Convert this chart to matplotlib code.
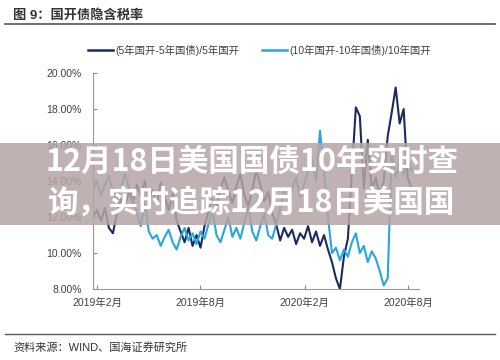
import pandas as pd
import matplotlib
matplotlib.use("Agg")
import matplotlib.pyplot as plt
from matplotlib.patches import Rectangle
from matplotlib.lines import Line2D

plt.rcParams['font.family'] = ['Liberation Sans', 'Noto Sans CJK SC', 'DejaVu Sans']

# weekly series
dates = pd.date_range('2019-01-25', periods=81, freq='7D')

rate_10y = [13.5, 14.0, 13.2, 13.8, 14.3, 13.4, 12.9, 13.6, 14.4, 13.7, 13.0,
            12.2, 11.5, 12.8, 11.2, 10.8,
            11.0, 10.4, 10.9, 11.3, 10.6, 10.2, 10.9, 11.4, 10.7, 11.1,
            10.5, 11.2, 10.8, 11.6, 12.4, 11.0, 10.6, 11.3, 12.0, 10.9,
            11.4, 10.8, 11.7, 12.6, 11.2, 10.7, 11.5, 12.2, 11.0, 10.8,
            11.6, 12.5, 13.4, 12.8, 13.6, 14.2, 13.1, 13.8, 14.5, 15.2, 14.0,
            16.8, 14.5, 12.0,
            10.0, 10.3, 9.6, 10.2, 9.8, 10.6, 11.1, 10.0, 10.4, 9.5, 10.1, 9.7,
            9.0, 8.2, 8.6, 15.5, 14.2, 15.0, 14.4, 15.3, 14.6]

rate_5y = [12.0, 12.4, 11.8, 12.5, 11.4, 11.1, 12.2, 13.0, 12.6, 13.4, 12.8,
           13.8, 13.2, 14.0, 12.9, 13.5, 12.7, 13.9, 13.1, 12.4, 13.3, 11.8,
           11.2, 10.6, 11.4, 10.4, 11.0, 10.3, 11.5, 12.3,
           13.0, 12.5, 13.6, 14.2, 13.4, 12.8, 13.7, 14.4, 13.2, 12.6, 13.5,
           14.6, 13.8, 12.9, 13.4, 12.2,
           11.6, 10.7, 11.4, 10.9, 11.3, 10.5, 11.1, 10.8, 11.5, 10.6, 11.2,
           10.4, 11.0, 10.2, 9.5, 8.6, 8.0, 9.8,
           10.8, 14.5, 18.1, 17.6, 13.6, 16.3, 13.5, 14.2, 13.2, 14.0, 16.5,
           17.8, 19.2, 17.2, 18.0, 14.2, 13.6]

label_5y = '(5年国开-5年国债)/5年国开'
label_10y = '(10年国开-10年国债)/10年国开'
navy = '#1c2b5e'
cyan = '#27a6df'

fig = plt.figure(figsize=(5, 3.6), dpi=100)
ax = fig.add_axes([0.186, 0.197, 0.652, 0.6])

ax.plot(dates, rate_5y, color=navy, lw=1.5)
ax.plot(dates, rate_10y, color=cyan, lw=1.5)

ax.set_ylim(8, 20)
ax.set_yticks([8, 10, 12, 14, 16, 18, 20])
ax.set_yticklabels(['%.2f%%' % v for v in [8, 10, 12, 14, 16, 18, 20]])
ax.set_xlim(pd.Timestamp('2019-01-25'), pd.Timestamp('2020-08-20'))
ticks = pd.to_datetime(['2019-02-01', '2019-08-01', '2020-02-01', '2020-08-01'])
ax.set_xticks(ticks)
ax.set_xticklabels(['2019年2月', '2019年8月', '2020年2月', '2020年8月'])
ax.tick_params(direction='in', length=3, color='#888888', labelsize=7.5,
               labelcolor='#404040')
ax.tick_params(axis='x', pad=6)
ax.tick_params(axis='y', pad=8)
for s in ['top', 'right']:
    ax.spines[s].set_visible(False)
for s in ['left', 'bottom']:
    ax.spines[s].set_color('#999999')

# legend
fig.lines.append(Line2D([0.176, 0.226], [0.861, 0.861], color=navy, lw=1.8,
                        transform=fig.transFigure))
fig.text(0.23, 0.861, label_5y, fontsize=7.5, color='#404040', va='center')
fig.lines.append(Line2D([0.524, 0.574], [0.861, 0.861], color=cyan, lw=1.8,
                        transform=fig.transFigure))
fig.text(0.578, 0.861, label_10y, fontsize=7.5, color='#404040', va='center')

# header and footer
fig.text(0.026, 0.958, '图 9：国开债隐含税率', fontsize=9.5, fontweight='bold',
         color='#333333', va='center')
fig.lines.append(Line2D([0.01, 0.99], [0.933, 0.933], color='#555555', lw=1.2,
                        transform=fig.transFigure))
fig.lines.append(Line2D([0.01, 0.99], [0.072, 0.072], color='#555555', lw=1.0,
                        transform=fig.transFigure))
fig.text(0.026, 0.036, '资料来源：WIND、国海证券研究所', fontsize=8,
         color='#333333', va='center')

# banner overlay
fig.patches.append(Rectangle((0, 1 - 225 / 360), 1, 82 / 360,
                             transform=fig.transFigure, facecolor='#b5a5a6',
                             alpha=0.85, edgecolor='none', zorder=5))
fig.text(0.503, 0.55, '12月18日美国国债10年实时查', fontsize=22,
         fontweight='bold', color='white', ha='center', va='center',
         family=['Noto Sans CJK SC', 'DejaVu Sans'], zorder=6)
fig.text(0.503, 0.436, '询，实时追踪12月18日美国国', fontsize=22,
         fontweight='bold', color='white', ha='center', va='center',
         family=['Noto Sans CJK SC', 'DejaVu Sans'], zorder=6)

fig.savefig('out.png', dpi=100)
